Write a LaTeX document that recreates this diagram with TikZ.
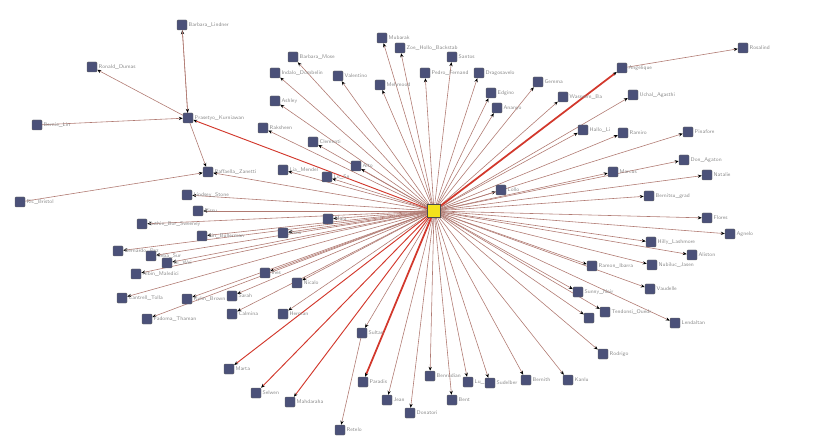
\documentclass[tikz,border=0pt]{standalone}
\usetikzlibrary{arrows.meta, backgrounds}

\definecolor{pnode}{HTML}{4B5179}
\definecolor{hubfill}{HTML}{F4E21C}
\definecolor{tie}{HTML}{B07A72}
\definecolor{redtie}{HTML}{D2382C}
\definecolor{plabel}{HTML}{8A8A8A}

\tikzset{
    person/.style={draw=black!60, fill=pnode, minimum size=3mm, inner sep=0pt,
        rounded corners=0.8pt, label={[namelbl]right:#1}},
    namelbl/.style={text=plabel, font=\sffamily\fontsize{4.6}{5}\selectfont,
        inner sep=1pt},
    tie/.style={draw=tie, line width=0.5pt,
        -{Stealth[length=3.4pt, width=2.8pt, color=black]}},
    redline/.style={tie, draw=redtie, line width=0.8pt},
    thickred/.style={tie, draw=redtie, line width=1.5pt},
}

% leaves hanging from the centre: name/x/y/label
\def\leaves{%
    l1/187/195/Lindsey\_Stone, l2/198/211/Rissu, l3/142/224/Ruthie\_Bor\_Sweeney,
    l4/202/236/Lin\_Bullerman, l5/283/233/Dora, l6/118/251/Bernardo\_Pez,
    l7/151/256/Seba\_Sur, l8/167/263/Bi\_Wei, l9/136/274/Albin\_Maledici,
    l10/265/273/Ines, l11/297/283/Nicalo, l12/122/298/Cantrell\_Tolla,
    l13/187/299/Kylm\_Brown, l14/232/296/Sarah, l15/147/319/Fadoma\_Thaman,
    l16/232/314/Calmina, l17/283/314/Herman, l21/362/333/Sultan,
    l24/387/400/Jean, l25/410/413/Donatori, l26/430/376/Benrudian,
    l27/452/400/Bent, l28/468/382/Lu\_Ka, l29/490/383/Sudelber,
    l30/526/380/Bernith, l31/568/380/Kanlu, l32/603/354/Rodrigo,
    l33/589/318/, l34/605/312/Tendonsi\_Ouedr, l35/578/292/Sunny\_Nair,
    l36/675/323/Lendaltan, l37/650/289/Vaudelle, l38/592/266/Ramon\_Ibarra,
    l39/652/265/Nubiluc\_Jasen, l40/692/255/Aliston, l41/651/242/Hilly\_Lashmore,
    l42/730/234/Agnelo, l43/707/218/Flores, l44/649/196/Bernitsu\_grad,
    l45/501/190/Lollo, l46/613/172/Marcus, l47/707/175/Natalie,
    l48/684/160/Don\_Agaton, l49/688/132/Pinafore, l50/623/133/Ramiro,
    l51/583/130/Hallo\_Li, l52/633/95/Uchal\_Agasthi, l55/563/97/Wasseem\_Ba,
    l56/538/82/Gemma, l57/497/108/Ananyo, l58/491/93/Edgino,
    l59/479/73/Dragosavelo, l60/452/57/Santos, l61/425/73/Pedro\_Fernand,
    l62/400/48/Zoe\_Hollo\_Backstab, l63/382/38/Mubarak, l64/380/85/Mehmood,
    l65/338/76/Valentino, l66/293/57/Barbara\_Mose, l67/275/73/Indalo\_Dombelin,
    l68/275/101/Ashley, l69/263/128/Raksheen, l70/313/142/Clementi,
    l71/356/166/Alto, l72/283/170/Lia\_Mendel, l73/327/177/Lo\_Sn,
    l74/328/219/Maia, h2/208/172/Raffaella\_Zanetti}

\begin{document}
\begin{tikzpicture}[x=0.3mm, y=-0.3mm]
    \useasboundingbox (0,0) rectangle (824,447);

    % centre of the star
    \node[draw=black!70, fill=hubfill, minimum size=4mm, inner sep=0pt] (hub) at (434,211) {};

    \foreach \n/\x/\y/\t in \leaves
        \node[person=\t] (\n) at (\x,\y) {};

    % top left cluster
    \node[person=Prasetyo\_Kurniawan] (h1) at (188,118) {};
    \node[person=Barbara\_Lindner] (a1) at (182,25) {};
    \node[person=Ronald\_Dumas] (a2) at (92,67) {};
    \node[person=Bernie\_Lin] (a3) at (37,125) {};
    \node[person=Ric\_Bristol] (a4) at (20,202) {};

    % the red ones and the second ring
    \node[person=Marta] (l18) at (229,369) {};
    \node[person=Selwen] (l19) at (256,393) {};
    \node[person=Mahdaraha] (l20) at (290,402) {};
    \node[person=Paradis] (l22) at (363,382) {};
    \node[person=Retelo] (l23) at (340,430) {};
    \node[person=Angelique] (l53) at (622,68) {};
    \node[person=Rosalind] (l54) at (743,48) {};

    \begin{scope}[on background layer]
        \foreach \n/\x/\y/\t in \leaves
            \draw[tie] (hub) -- (\n);
        \draw[redline] (hub) -- (h1);
        \draw[redline] (hub) -- (l18);
        \draw[redline] (hub) -- (l19);
        \draw[redline] (hub) -- (l20);
        \draw[thickred] (hub) -- (l22);
        \draw[thickred] (hub) -- (l53);
        \draw[tie] (l53) -- (l54);
        \draw[tie] (l21) -- (l23);
        \draw[tie] (h1) -- (a1);
        \draw[tie] (a1) -- (h1);
        \draw[tie] (h1) -- (a2);
        \draw[tie] (a3) -- (h1);
        \draw[tie] (h1) -- (h2);
        \draw[tie] (a4) -- (h2);
    \end{scope}
\end{tikzpicture}
\end{document}
